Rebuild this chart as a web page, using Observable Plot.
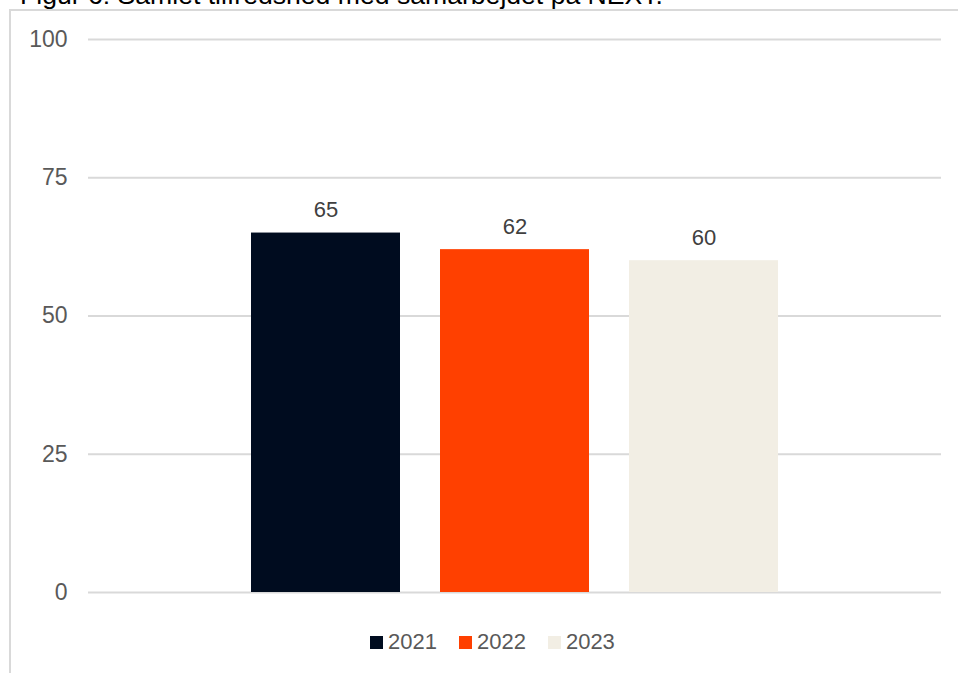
<!DOCTYPE html>
<html>
<head>
<meta charset="utf-8">
<script src="https://cdn.jsdelivr.net/npm/d3@7"></script>
<script src="https://cdn.jsdelivr.net/npm/@observablehq/plot@0.6"></script>
<style>
  html, body { margin: 0; padding: 0; background: #fff; }
  #wrap { position: relative; width: 958px; height: 673px; overflow: hidden; font-family: "Liberation Sans", Arial, sans-serif; }
  #title { position: absolute; left: 20px; top: -18px; font-size: 26.6px; line-height: 26.6px; color: #000; white-space: nowrap; }
  #frame { position: absolute; left: 9px; top: 9px; width: 1000px; height: 700px; border-left: 2px solid #d9d9d9; border-top: 2px solid #d9d9d9; }
  #chart { position: absolute; left: 0; top: 0; }
  #legend { position: absolute; left: 370px; top: 630px; display: flex; align-items: center; font-size: 22px; line-height: 24px; color: #595959; }
  #legend .item { display: flex; align-items: center; margin-right: 22px; }
  #legend .sw { width: 13px; height: 13px; margin-right: 5px; }
</style>
</head>
<body>
<div id="wrap">
  <div id="title">Figur 6: Samlet tilfredshed med samarbejdet på NEXT.</div>
  <div id="frame"></div>
  <div id="chart"></div>
  <div id="legend"></div>
</div>
<script>
const years = ["2021", "2022", "2023"];
const values = [65, 62, 60];
const colors = ["#000c1f", "#ff4000", "#f2eee4"];
const yTicks = [0, 25, 50, 75, 100];

const data = years.map((y, i) => ({year: y, value: values[i]}));

const chart = Plot.plot({
  width: 958,
  height: 610,
  marginTop: 39,
  marginBottom: 18,
  marginLeft: 88,
  marginRight: 17,
  style: {fontFamily: '"Liberation Sans", Arial, sans-serif', fontSize: "23px", color: "#595959", background: "transparent"},
  x: {domain: years, paddingInner: 0.2116, paddingOuter: 0.862, axis: null},
  y: {domain: [0, 100]},
  color: {domain: years, range: colors},
  marks: [
    Plot.gridY(yTicks, {stroke: "#d9d9d9", strokeOpacity: 1, strokeWidth: 2}),
    Plot.axisY(yTicks, {tickSize: 0, tickPadding: 21, label: null, fontSize: 23, fill: "#595959"}),
    Plot.barY(data, {x: "year", y: "value", fill: "year"}),
    Plot.text(data, {x: "year", y: "value", text: d => String(d.value), dy: -16, lineAnchor: "bottom", fill: "#404040", fontSize: 22})
  ]
});
document.getElementById("chart").appendChild(chart);

const legend = document.getElementById("legend");
years.forEach((y, i) => {
  const item = document.createElement("div");
  item.className = "item";
  const sw = document.createElement("div");
  sw.className = "sw";
  sw.style.background = colors[i];
  const t = document.createElement("span");
  t.textContent = y;
  item.appendChild(sw);
  item.appendChild(t);
  legend.appendChild(item);
});
</script>
</body>
</html>
